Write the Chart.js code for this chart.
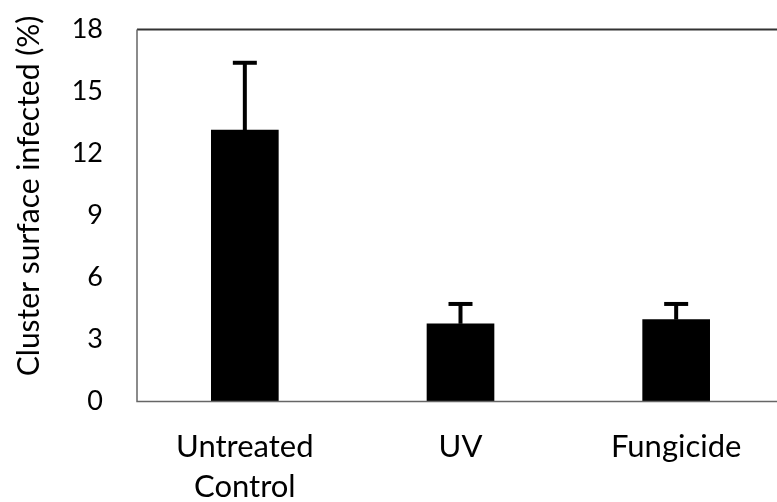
<!DOCTYPE html>
<html>
<head>
<meta charset="utf-8">
<script src="https://cdn.jsdelivr.net/npm/chart.js@4.4.0/dist/chart.umd.min.js"></script>
<style>
  html, body { margin: 0; padding: 0; background: #fff; overflow: hidden; }
  #wrap { width: 800px; height: 502px; }
</style>
</head>
<body>
<div id="wrap"><canvas id="c" width="800" height="502"></canvas></div>
<script>
const categories = [["Untreated", "Control"], "UV", "Fungicide"];
const values = [13.13, 3.76, 3.96];
const errorsUp = [3.26, 0.96, 0.76];
const yTicks = [0, 3, 6, 9, 12, 15, 18];
const yTitle = "Cluster surface infected (%)";

const FONT = "Lato, 'Open Sans', sans-serif";

const framePlugin = {
  id: 'frame',
  afterDatasetsDraw(chart) {
    const ctx = chart.ctx;
    const a = chart.chartArea;
    const x = chart.scales.x, y = chart.scales.y;
    ctx.save();
    // error bars
    ctx.strokeStyle = '#000';
    ctx.lineWidth = 4;
    const meta = chart.getDatasetMeta(0);
    meta.data.forEach((bar, i) => {
      const px = bar.x;
      const yTop = y.getPixelForValue(values[i] + errorsUp[i]);
      const yBase = y.getPixelForValue(values[i]);
      ctx.beginPath();
      ctx.moveTo(px, yBase);
      ctx.lineTo(px, yTop);
      ctx.stroke();
      ctx.beginPath();
      ctx.moveTo(px - 12, yTop);
      ctx.lineTo(px + 12, yTop);
      ctx.stroke();
    });
    // frame
    ctx.lineWidth = 2;
    ctx.strokeStyle = '#333';
    ctx.beginPath();
    ctx.moveTo(a.left, a.top);
    ctx.lineTo(a.right, a.top);
    ctx.stroke();
    ctx.lineWidth = 1.5;
    ctx.strokeStyle = '#666';
    ctx.beginPath();
    ctx.moveTo(a.left, a.top);
    ctx.lineTo(a.left, a.bottom);
    ctx.lineTo(a.right, a.bottom);
    ctx.stroke();
    // y title
    ctx.fillStyle = '#000';
    ctx.font = "30px " + FONT;
    ctx.textAlign = 'center';
    ctx.textBaseline = 'middle';
    ctx.translate(29, 196);
    ctx.rotate(-Math.PI / 2);
    ctx.fillText(yTitle, 0, 0);
    ctx.restore();
  }
};

new Chart(document.getElementById('c'), {
  type: 'bar',
  data: {
    labels: categories,
    datasets: [{
      data: values,
      backgroundColor: '#000',
      borderWidth: 0,
      barThickness: 67
    }]
  },
  options: {
    responsive: false,
    animation: false,
    events: [],
    layout: { padding: { top: 29.5, right: 16, left: 0, bottom: 0 } },
    plugins: { legend: { display: false }, tooltip: { enabled: false } },
    scales: {
      x: {
        grid: { display: false, drawTicks: false },
        border: { display: false },
        ticks: {
          color: '#000',
          font: { family: FONT, size: 31, lineHeight: 1.29 },
          padding: 26,
          maxRotation: 0,
          autoSkip: false
        },
        afterFit(s) { s.height = 100.5; s.paddingLeft = 0; s.paddingRight = 0; }
      },
      y: {
        min: 0, max: 18,
        grid: { display: false, drawTicks: false },
        border: { display: false },
        afterBuildTicks(s) { s.ticks = yTicks.map(v => ({ value: v })); },
        ticks: {
          color: '#000',
          font: { family: FONT, size: 27 },
          padding: 34
        },
        afterFit(s) { s.width = 137; s.paddingTop = 0; s.paddingBottom = 0; }
      }
    }
  },
  plugins: [framePlugin]
});
</script>
</body>
</html>
